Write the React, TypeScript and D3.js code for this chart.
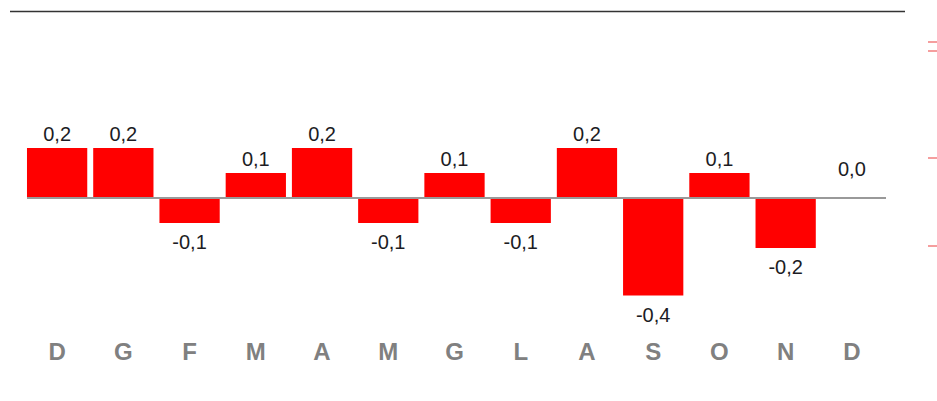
import { useEffect, useRef } from "react";
import * as d3 from "d3";

const months = ["D", "G", "F", "M", "A", "M", "G", "L", "A", "S", "O", "N", "D"];
const values = [0.2, 0.2, -0.1, 0.1, 0.2, -0.1, 0.1, -0.1, 0.2, -0.39, 0.1, -0.2, 0.0];
// little red tick marks cut off at the right edge
const sideMarks = [42, 51, 158, 246];

const fmt = (v: number) => d3.format(".1f")(v).replace(".", ",").replace("−", "-");

const App = () => {
  const ref = useRef<SVGSVGElement>(null);

  useEffect(() => {
    const width = 937, height = 401;
    const svg = d3.select(ref.current)
      .html("")
      .attr("width", width)
      .attr("height", height)
      .style("position", "absolute")
      .style("left", "0px")
      .style("top", "0px")
      .style("background", "#fff");

    const keys = months.map((m, i) => i + m);

    const x = d3.scaleBand<string>()
      .domain(keys)
      .range([24, 885])
      .paddingInner(0.09)
      .paddingOuter(0.045);

    const y = d3.scaleLinear()
      .domain([-0.4, 0.2])
      .range([298, 148]);

    // top rule
    svg.append("line")
      .attr("x1", 10).attr("x2", 905)
      .attr("y1", 11.5).attr("y2", 11.5)
      .attr("stroke", "#333")
      .attr("stroke-width", 1.5);

    svg.selectAll("line.side")
      .data(sideMarks)
      .enter()
      .append("line")
      .attr("class", "side")
      .attr("x1", 928).attr("x2", 937)
      .attr("y1", d => d).attr("y2", d => d)
      .attr("stroke", "#f06a6a")
      .attr("stroke-width", 1.3);

    svg.selectAll("rect")
      .data(values)
      .enter()
      .append("rect")
      .attr("x", (d, i) => x(keys[i])!)
      .attr("width", x.bandwidth())
      .attr("y", d => Math.min(y(d), y(0)))
      .attr("height", d => Math.abs(y(d) - y(0)))
      .attr("fill", "#ff0000");

    svg.append("line")
      .attr("x1", 27).attr("x2", 886)
      .attr("y1", y(0)).attr("y2", y(0))
      .attr("stroke", "#999")
      .attr("stroke-width", 2);

    svg.selectAll("text.val")
      .data(values)
      .enter()
      .append("text")
      .attr("class", "val")
      .attr("x", (d, i) => x(keys[i])! + x.bandwidth() / 2)
      .attr("y", d => d > 0 ? y(d) - 7 : d < 0 ? y(d) + 26 : y(0) - 22)
      .attr("text-anchor", "middle")
      .attr("font-family", "Liberation Sans, Arial, sans-serif")
      .attr("font-size", 20)
      .attr("fill", "#1c1c24")
      .text(d => fmt(d));

    svg.selectAll("text.month")
      .data(months)
      .enter()
      .append("text")
      .attr("class", "month")
      .attr("x", (d, i) => x(keys[i])! + x.bandwidth() / 2)
      .attr("y", 360)
      .attr("text-anchor", "middle")
      .attr("font-family", "Liberation Sans, Arial, sans-serif")
      .attr("font-weight", "bold")
      .attr("font-size", 24)
      .attr("fill", "#808080")
      .text(d => d);
  }, []);

  return <svg ref={ref}></svg>;
};

export default App;
